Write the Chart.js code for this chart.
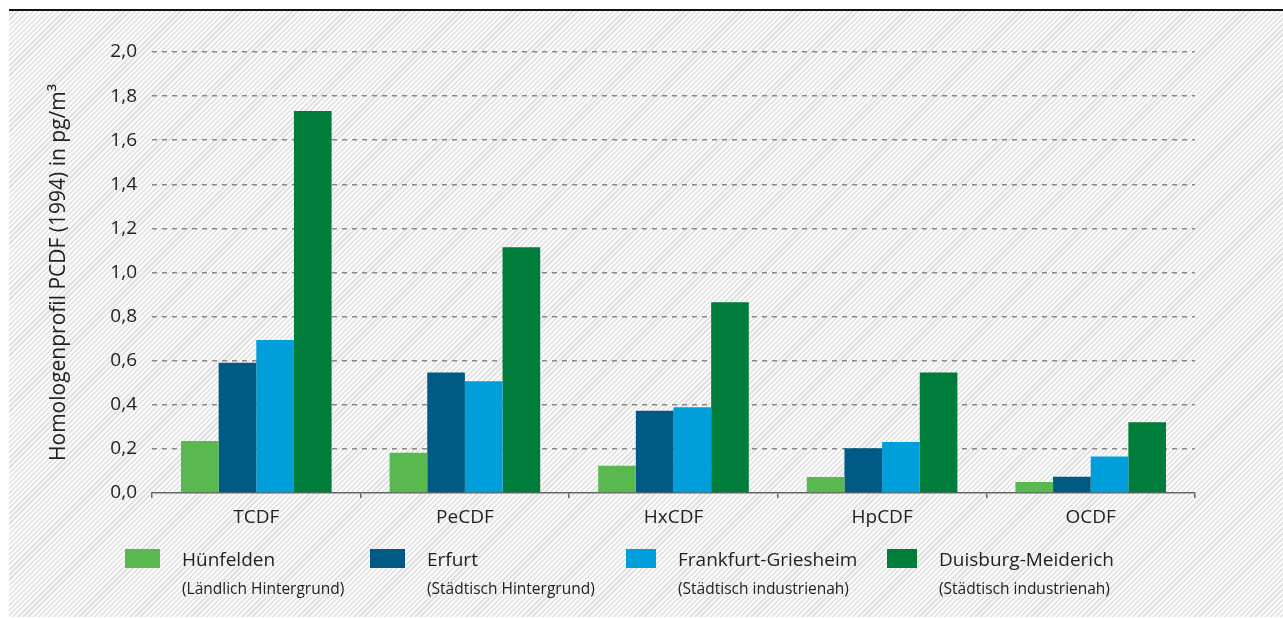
<!DOCTYPE html>
<html>
<head>
<meta charset="utf-8">
<script src="https://cdn.jsdelivr.net/npm/chart.js@4"></script>
<style>
  html, body { margin: 0; padding: 0; background: #fff; }
  #page { position: relative; width: 1283px; height: 618px; overflow: hidden; font-family: "Open Sans", sans-serif; color: #222; }
  #hatch { position: absolute; left: 9px; top: 11px; width: 1274px; height: 606px;
    background: repeating-linear-gradient(135deg, #fbfbfb 0px, #fbfbfb 2px, #e2e2e2 2px, #e2e2e2 3.6px); }
  #topline { position: absolute; left: 9px; top: 9px; width: 1274px; height: 2px; background: #111; }
  #wrap { position: absolute; left: 0; top: 0; width: 1283px; height: 618px; }
  .item { position: absolute; top: 549px; }
  .sw { position: absolute; left: 0; top: 0; height: 19px; }
  .lbl { position: absolute; top: -3px; white-space: nowrap; font-size: 19px; }
  .sub { position: absolute; top: 28px; white-space: nowrap; font-size: 15.5px; }
</style>
</head>
<body>
<div id="page">
  <div id="hatch"></div>
  <div id="topline"></div>
  <div id="wrap"><canvas id="chart"></canvas></div>
  <div id="legend"></div>
</div>
<script>
const categories = ['TCDF', 'PeCDF', 'HxCDF', 'HpCDF', 'OCDF'];
const seriesNames = ['Hünfelden', 'Erfurt', 'Frankfurt-Griesheim', 'Duisburg-Meiderich'];
const seriesNotes = ['(Ländlich Hintergrund)', '(Städtisch Hintergrund)', '(Städtisch industrienah)', '(Städtisch industrienah)'];
const seriesColors = ['#59b850', '#005b84', '#009edb', '#007d3a'];

const huenfelden = [0.236, 0.183, 0.124, 0.073, 0.050];
const erfurt     = [0.591, 0.547, 0.373, 0.203, 0.074];
const frankfurt  = [0.694, 0.507, 0.389, 0.231, 0.166];
const duisburg   = [1.732, 1.114, 0.865, 0.547, 0.321];

const yTicks = [0, 0.2, 0.4, 0.6, 0.8, 1.0, 1.2, 1.4, 1.6, 1.8, 2.0];
const yTitle = 'Homologenprofil PCDF (1994) in pg/m³';

const seriesValues = [huenfelden, erfurt, frankfurt, duisburg];

// legend drawn as html, positions match the original layout
const legendLeft = [125, 370, 626, 887];
const swatchWidth = [35, 35, 30, 30];
const legend = document.getElementById('legend');
seriesNames.forEach((name, i) => {
  const el = document.createElement('div');
  el.className = 'item';
  el.style.left = legendLeft[i] + 'px';
  el.innerHTML =
    '<div class="sw" style="width:' + swatchWidth[i] + 'px;background:' + seriesColors[i] + '"></div>' +
    '<div class="lbl" style="left:' + (swatchWidth[i] + 22) + 'px">' + name + '</div>' +
    '<div class="sub" style="left:' + (swatchWidth[i] + 22) + 'px">' + seriesNotes[i] + '</div>';
  legend.appendChild(el);
});

const ctx = document.getElementById('chart');

new Chart(ctx, {
  type: 'bar',
  data: {
    labels: categories,
    datasets: seriesNames.map((name, i) => ({
      label: name,
      data: seriesValues[i],
      backgroundColor: seriesColors[i],
      borderWidth: 0,
      categoryPercentage: 0.722,
      barPercentage: 1.0
    }))
  },
  options: {
    responsive: true,
    maintainAspectRatio: false,
    animation: false,
    layout: { padding: { left: 0, right: 88, top: 52, bottom: 0 } },
    plugins: {
      legend: { display: false },
      tooltip: { enabled: false }
    },
    scales: {
      x: {
        grid: {
          offset: true,
          drawOnChartArea: false,
          drawTicks: true,
          tickLength: 5,
          color: '#666',
          lineWidth: 1.5
        },
        border: { display: true, color: '#666', width: 1.5 },
        ticks: {
          padding: 8,
          color: '#222',
          font: { family: 'Open Sans', size: 19 }
        },
        afterFit: (axis) => { axis.height = 125; }
      },
      y: {
        min: 0,
        max: 2,
        afterBuildTicks: (axis) => { axis.ticks = yTicks.map(v => ({ value: v })); },
        grid: {
          drawTicks: false,
          color: (c) => c.tick && c.tick.value === 0 ? 'rgba(0,0,0,0)' : '#888',
          lineWidth: 1.5
        },
        border: { display: false, dash: [5, 5] },
        ticks: {
          padding: 15,
          color: '#222',
          font: { family: 'Open Sans', size: 19 },
          callback: (v) => Number(v).toFixed(1).replace('.', ',')
        },
        title: {
          display: true,
          text: yTitle,
          color: '#222',
          font: { family: 'Open Sans', size: 21 },
          padding: { top: 46, bottom: 0 }
        },
        afterFit: (axis) => { axis.width = 152; }
      }
    }
  }
});
</script>
</body>
</html>
